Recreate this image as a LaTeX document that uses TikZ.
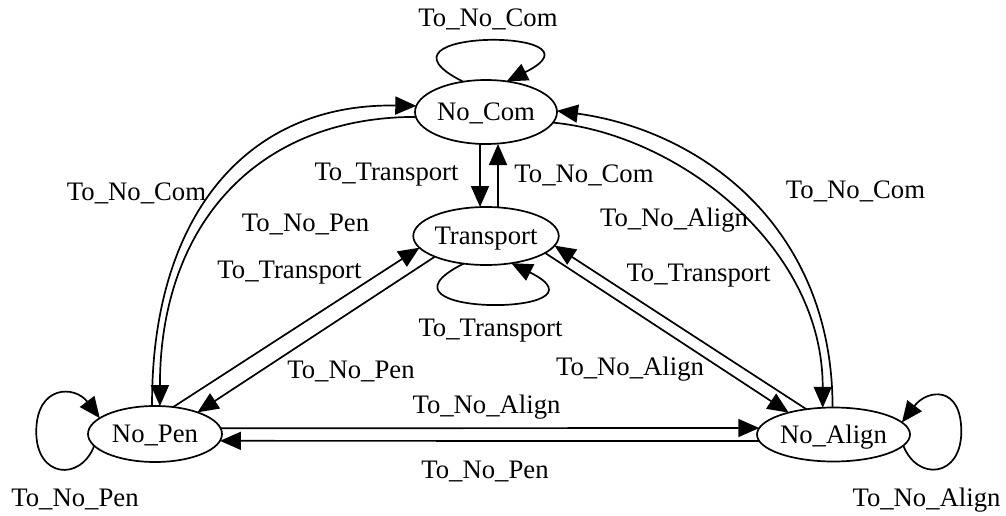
\documentclass[tikz,border=0pt]{standalone}
\usepackage{fontspec}
\setmainfont{Liberation Serif}
\usetikzlibrary{shapes.geometric,arrows.meta}
\begin{document}
\begin{tikzpicture}[x=1pt,y=-1pt,
  font=\fontsize{26.7}{30}\selectfont,
  line width=1.7pt,
  >={Triangle[length=21pt,width=18pt]},
  state/.style={draw, ellipse, inner sep=0pt, outer sep=0pt,
                text height=17.6pt, text depth=0pt},
  lbl/.style={anchor=base, inner sep=0pt}]
\useasboundingbox (0,0) rectangle (1006,516);

% states
\node[state, minimum width=142pt, minimum height=64pt] (nc) at (486,112) {No\_Com};
\node[state, minimum width=144pt, minimum height=58pt] (tr) at (486,236) {Transport};
\node[state, minimum width=134pt, minimum height=56pt] (np) at (155,434) {No\_Pen};
\node[state, minimum width=153pt, minimum height=54pt] (na) at (833.5,434.5) {No\_Align};

% self loops
\draw[->] (nc.127.5) .. controls +(-108,-54) and +(109,-54) .. (nc.56.3);
\draw[->] (tr.231.4) .. controls +(-108,54) and +(109,54) .. (tr.313.9);
\draw[->] (np.191) .. controls +(-14,36) and +(0,46) .. ++(-58,-14)
                   .. controls +(0,-47) and +(-25,-33) .. (np.164);
\draw[->] (na.351.5) .. controls +(14,36) and +(0,46) .. ++(58,-14)
                   .. controls +(0,-47) and +(25,-33) .. (na.10.7);

% No_Com <-> Transport
\draw[->] ([xshift=-6pt]nc.south) -- ([xshift=-6pt]tr.north);
\draw[->] ([xshift=12pt]tr.north) -- ([xshift=12pt]nc.south);

% No_Com <-> No_Pen
\draw[->] (np.96) .. controls +(-1,-187) and +(-172,-3) .. (nc.175.9);
\draw[->] (nc.184.1) .. controls +(-160,0) and +(0,-180) .. (np.80);

% No_Com <-> No_Align
\draw[->] (na.92) .. controls +(0,-180) and +(145,20) .. (nc.1.6);
\draw[->] (nc.351.8) .. controls +(125,12) and +(0,-162) .. (na.112);

% Transport <-> No_Pen
\draw[->] (tr.202.7) -- (np.27.1);
\draw[->] (np.56.3) -- (tr.190.7);

% Transport <-> No_Align
\draw[->] (tr.344.4) -- (na.154.2);
\draw[->] (na.137.2) -- (tr.352.9);

% No_Pen <-> No_Align
\draw[->] (np.5.7) -- (na.175);
\draw[->] (na.185) -- (np.354.3);

% edge labels
\node[lbl] (lncloop) at (488,27)    {To\_No\_Com};
\node[lbl] (lnctr)   at (386.5,180.5) {To\_Transport};
\node[lbl] (ltrnc)   at (584,182.6) {To\_No\_Com};
\node[lbl] (lncnp)   at (305.5,231.6) {To\_No\_Pen};
\node[lbl] (lnpnc)   at (136.5,200.3) {To\_No\_Com};
\node[lbl] (lnptr)   at (289.5,278.6) {To\_Transport};
\node[lbl] (ltrnp)   at (351,378.6) {To\_No\_Pen};
\node[lbl] (ltrna)   at (630,375.6) {To\_No\_Align};
\node[lbl] (lnatr)   at (698.5,281.6) {To\_Transport};
\node[lbl] (lncna)   at (674,226.6) {To\_No\_Align};
\node[lbl] (lnanc)   at (855.5,198.6) {To\_No\_Com};
\node[lbl] (lnpna)   at (486.5,413.6) {To\_No\_Align};
\node[lbl] (lnanp)   at (485,478.6) {To\_No\_Pen};
\node[lbl] (lnploop) at (75,506.6)  {To\_No\_Pen};
\node[lbl] (lnaloop) at (926.5,506.6) {To\_No\_Align};
\node[lbl] (ltrloop) at (490.5,336.6) {To\_Transport};
\end{tikzpicture}
\end{document}
